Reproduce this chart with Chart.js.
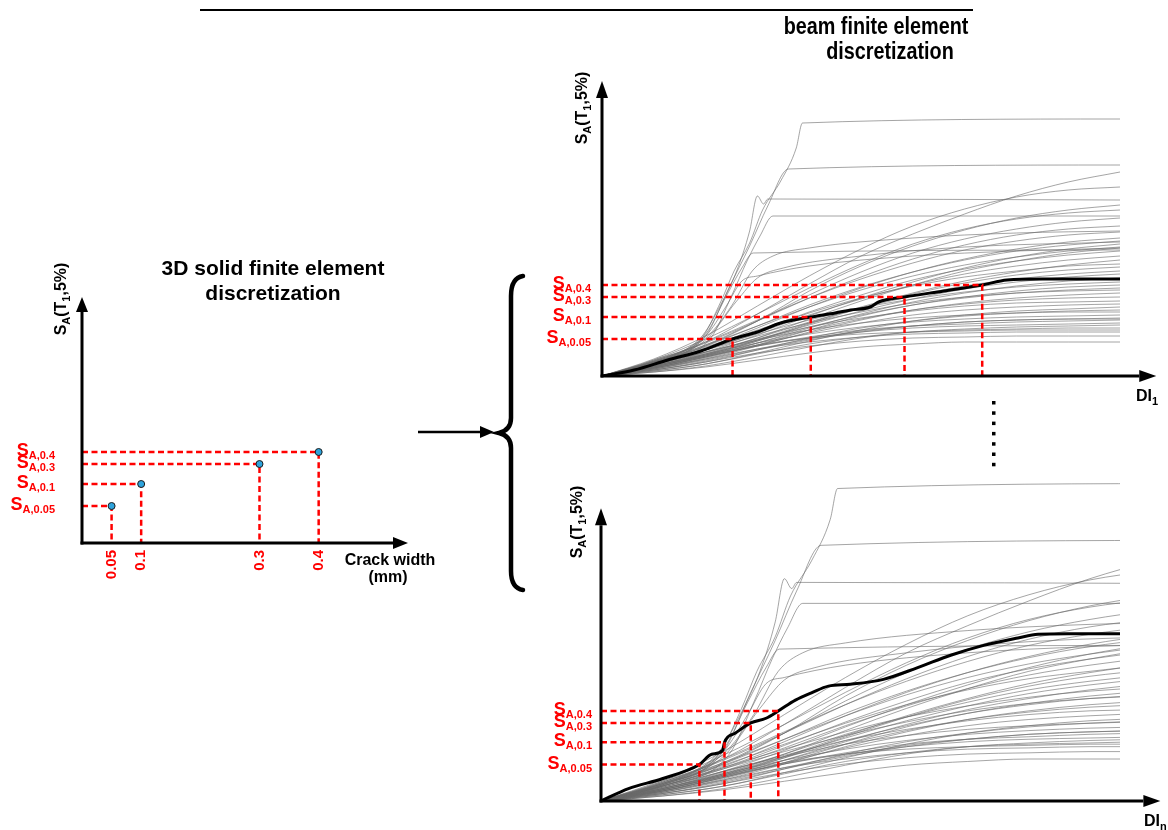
<!DOCTYPE html>
<html>
<head>
<meta charset="utf-8">
<title>Crack width to DI mapping</title>
<script src="https://cdn.jsdelivr.net/npm/chart.js"></script>
<style>
  body { margin: 0; background: #fff; }
  #wrap { position: relative; width: 1168px; height: 830px; }
  #wrap canvas { position: absolute; left: 0; top: 0; }
</style>
</head>
<body>
<div id="wrap">
  <canvas id="crackChart" width="1168" height="830"></canvas>
  <canvas id="di1Chart" width="1168" height="830"></canvas>
  <canvas id="dinChart" width="1168" height="830"></canvas>
</div>
<script>
// --- 3D solid model: crack width vs SA(T1,5%) ---
const crackWidths = [0.05, 0.1, 0.3, 0.4];
const crackLabels = ['0.05', '0.1', '0.3', '0.4'];
const saLevels = [0.37, 0.59, 0.79, 0.91];
const saLabels = ['A,0.05', 'A,0.1', 'A,0.3', 'A,0.4'];

// --- beam model: DI where the median IDA curve reaches each SA level ---
const di1Levels = [2.52, 4.03, 5.84, 7.34];
const dinLevels = [1.61, 2.02, 2.45, 2.90];
const dinSaLevels = [0.295, 0.475, 0.632, 0.729];

// median IDA curves [DI, SA]
const medianDI1 = [[0,0],[0.62,0.06],[1.27,0.16],[1.91,0.25],[2.52,0.37],[3.0,0.44],[3.45,0.53],
  [4.03,0.59],[4.5,0.63],[4.8,0.66],[5.18,0.69],[5.34,0.74],[5.84,0.79],[6.6,0.85],[7.34,0.91],
  [7.82,0.96],[8.5,0.97],[10,0.97]];
const medianDIn = [[0,0],[0.45,0.10],[1.0,0.18],[1.61,0.295],[1.81,0.378],[1.99,0.41],[2.02,0.475],
  [2.2,0.55],[2.45,0.632],[2.7,0.67],[2.9,0.729],[3.18,0.817],[3.46,0.88],[3.72,0.93],[4.08,0.945],
  [4.62,0.985],[5.18,1.08],[5.72,1.18],[6.26,1.26],[6.82,1.32],[7.15,1.35],[7.64,1.355],[8.49,1.355]];

// individual IDA records (gray), DI sampled at bundleX
const bundleX = [0, 1, 2, 3, 4, 5, 6, 7, 8, 9, 10];
const bundleSA = [
  [0, 0.04, 0.09, 0.16, 0.23, 0.29, 0.32, 0.34, 0.34, 0.34, 0.34],
  [0, 0.06, 0.14, 0.23, 0.30, 0.35, 0.38, 0.39, 0.40, 0.40, 0.40],
  [0, 0.08, 0.17, 0.27, 0.34, 0.39, 0.42, 0.43, 0.44, 0.44, 0.44],
  [0, 0.10, 0.21, 0.31, 0.38, 0.42, 0.44, 0.45, 0.46, 0.46, 0.46],
  [0, 0.05, 0.12, 0.22, 0.32, 0.39, 0.44, 0.46, 0.47, 0.48, 0.48],
  [0, 0.04, 0.10, 0.19, 0.29, 0.38, 0.44, 0.47, 0.49, 0.50, 0.51],
  [0, 0.09, 0.20, 0.30, 0.38, 0.44, 0.48, 0.50, 0.51, 0.52, 0.53],
  [0, 0.08, 0.19, 0.30, 0.39, 0.46, 0.50, 0.52, 0.54, 0.55, 0.56],
  [0, 0.07, 0.16, 0.27, 0.37, 0.45, 0.50, 0.54, 0.56, 0.57, 0.58],
  [0, 0.06, 0.15, 0.26, 0.36, 0.44, 0.50, 0.54, 0.56, 0.57, 0.57],
  [0, 0.10, 0.22, 0.33, 0.42, 0.49, 0.54, 0.57, 0.59, 0.60, 0.61],
  [0, 0.11, 0.24, 0.36, 0.46, 0.53, 0.58, 0.61, 0.63, 0.64, 0.64],
  [0, 0.06, 0.14, 0.26, 0.38, 0.48, 0.55, 0.60, 0.63, 0.65, 0.66],
  [0, 0.05, 0.12, 0.23, 0.35, 0.46, 0.55, 0.61, 0.65, 0.67, 0.69],
  [0, 0.08, 0.19, 0.31, 0.43, 0.53, 0.61, 0.66, 0.69, 0.71, 0.72],
  [0, 0.11, 0.24, 0.37, 0.49, 0.58, 0.65, 0.70, 0.73, 0.74, 0.75],
  [0, 0.09, 0.20, 0.33, 0.46, 0.57, 0.66, 0.72, 0.76, 0.78, 0.79],
  [0, 0.07, 0.17, 0.30, 0.44, 0.56, 0.66, 0.73, 0.78, 0.81, 0.83],
  [0, 0.12, 0.26, 0.40, 0.53, 0.64, 0.73, 0.79, 0.83, 0.85, 0.86],
  [0, 0.09, 0.21, 0.35, 0.49, 0.61, 0.71, 0.78, 0.83, 0.86, 0.88],
  [0, 0.07, 0.18, 0.31, 0.46, 0.60, 0.71, 0.79, 0.85, 0.89, 0.91],
  [0, 0.12, 0.27, 0.42, 0.56, 0.68, 0.77, 0.84, 0.89, 0.92, 0.94],
  [0, 0.08, 0.19, 0.33, 0.48, 0.62, 0.74, 0.83, 0.90, 0.95, 0.98],
  [0, 0.10, 0.22, 0.36, 0.51, 0.65, 0.77, 0.87, 0.94, 0.99, 1.02],
  [0, 0.10, 0.23, 0.38, 0.54, 0.68, 0.80, 0.90, 0.97, 1.02, 1.05],
  [0, 0.08, 0.20, 0.35, 0.52, 0.68, 0.82, 0.93, 1.01, 1.06, 1.09],
  [0, 0.13, 0.29, 0.46, 0.63, 0.78, 0.90, 0.99, 1.05, 1.10, 1.12],
  [0, 0.09, 0.21, 0.36, 0.53, 0.69, 0.83, 0.95, 1.04, 1.11, 1.16],
  [0, 0.11, 0.26, 0.43, 0.61, 0.77, 0.91, 1.02, 1.10, 1.16, 1.20],
  [0, 0.12, 0.27, 0.45, 0.64, 0.81, 0.96, 1.07, 1.15, 1.21, 1.25],
  [0, 0.14, 0.31, 0.50, 0.69, 0.86, 1.00, 1.11, 1.19, 1.25, 1.29],
  [0, 0.09, 0.22, 0.38, 0.57, 0.75, 0.91, 1.05, 1.15, 1.23, 1.28],
  [0, 0.10, 0.24, 0.41, 0.60, 0.78, 0.94, 1.08, 1.19, 1.27, 1.32],
  [0, 0.13, 0.30, 0.50, 0.71, 0.89, 1.04, 1.16, 1.25, 1.31, 1.35],
  [0, 0.12, 0.28, 0.48, 0.69, 0.88, 1.04, 1.17, 1.27, 1.34, 1.38],
  [0, 0.15, 0.34, 0.56, 0.78, 0.97, 1.13, 1.26, 1.35, 1.41, 1.44],
  [0, 0.14, 0.33, 0.55, 0.78, 0.99, 1.17, 1.31, 1.41, 1.47, 1.50],
  [0, 0.13, 0.31, 0.55, 0.81, 1.04, 1.23, 1.37, 1.47, 1.54, 1.58],
  [0, 0.16, 0.37, 0.62, 0.88, 1.12, 1.32, 1.47, 1.57, 1.63, 1.66],
  [0, 0.12, 0.30, 0.55, 0.85, 1.10, 1.30, 1.46, 1.58, 1.66, 1.71],
  [0, 0.17, 0.40, 0.70, 1.00, 1.27, 1.50, 1.67, 1.79, 1.86, 1.89],
  [0, 0.14, 0.34, 0.62, 0.92, 1.20, 1.42, 1.62, 1.80, 1.94, 2.04]
];

// records that soften or collapse early [DI, SA]
const steepCurves = [
  [[0,0],[1,0.14],[1.9,0.36],[2.3,0.75],[2.55,1.05],[2.85,1.33],[3.1,1.66],[3.45,1.95],[3.75,2.28],[3.87,2.53],[10,2.57]],
  [[0,0],[1,0.13],[2.0,0.40],[2.45,0.88],[2.85,1.30],[3.2,1.70],[3.6,2.07],[10,2.11]],
  [[0,0],[1,0.15],[1.9,0.38],[2.3,0.72],[2.6,1.05],[2.85,1.45],[3.0,1.80],[3.12,1.72],[3.2,1.77],[10,1.76]],
  [[0,0],[1,0.12],[2.1,0.38],[2.5,0.80],[2.8,1.15],[3.05,1.40],[3.3,1.60],[10,1.60]],
  [[0,0],[1,0.16],[2.0,0.42],[2.4,0.80],[2.7,1.08],[2.92,1.23],[10,1.26]],
  [[0,0],[1,0.15],[2.0,0.38],[2.5,0.70],[2.9,1.05],[3.3,1.20],[4,1.28],[6,1.38],[8,1.43],[10,1.45]],
  [[0,0],[1,0.14],[2.0,0.36],[2.6,0.75],[3.0,0.98],[3.5,1.08],[5,1.20],[7,1.29],[10,1.34]],
  [[0,0],[1,0.13],[2.0,0.40],[2.4,0.70],[2.7,0.95],[3.0,1.00],[4,1.10],[6,1.20],[8,1.25],[10,1.28]]
];

const FONT = '"Liberation Sans", Arial, Helvetica, sans-serif';
const RED = '#ff0000';
const GRAY = 'rgba(105,105,105,0.6)';

function pts(pairs) {
  return pairs.map(p => ({ x: p[0], y: p[1] }));
}

function grayDatasets() {
  const sets = bundleSA.map(ys => ({ data: bundleX.map((x, i) => ({ x, y: ys[i] })) }));
  steepCurves.forEach(c => sets.push({ data: pts(c) }));
  return sets.map(s => Object.assign(s, {
    showLine: true, borderColor: GRAY, borderWidth: 1, pointRadius: 0,
    cubicInterpolationMode: 'monotone', order: 3
  }));
}

function dashedDatasets(xs, ys) {
  return xs.map((x, i) => ({
    data: [{ x: 0, y: ys[i] }, { x, y: ys[i] }, { x, y: 0 }],
    showLine: true, borderColor: RED, borderWidth: 2.5, borderDash: [6, 3.5],
    pointRadius: 0, order: 1
  }));
}

function medianDataset(pairs) {
  return {
    data: pts(pairs), showLine: true, borderColor: '#000', borderWidth: 3,
    pointRadius: 0, cubicInterpolationMode: 'monotone', order: 2
  };
}

// text runs with subscripts: [text, size, dy]
function drawRuns(ctx, runs, x, y, align) {
  ctx.textAlign = 'left';
  ctx.textBaseline = 'alphabetic';
  let total = 0;
  runs.forEach(r => { ctx.font = `bold ${r[1]}px ${FONT}`; total += ctx.measureText(r[0]).width; });
  let cx = align === 'right' ? x - total : align === 'center' ? x - total / 2 : x;
  runs.forEach(r => {
    ctx.font = `bold ${r[1]}px ${FONT}`;
    ctx.fillText(r[0], cx, y + r[2]);
    cx += ctx.measureText(r[0]).width;
  });
}

function arrow(ctx, x1, y1, x2, y2, len, half, lw) {
  const a = Math.atan2(y2 - y1, x2 - x1);
  const bx = x2 - len * Math.cos(a), by = y2 - len * Math.sin(a);
  ctx.lineWidth = lw;
  ctx.beginPath(); ctx.moveTo(x1, y1); ctx.lineTo(bx, by); ctx.stroke();
  ctx.beginPath();
  ctx.moveTo(x2, y2);
  ctx.lineTo(bx - half * Math.sin(a), by + half * Math.cos(a));
  ctx.lineTo(bx + half * Math.sin(a), by - half * Math.cos(a));
  ctx.closePath(); ctx.fill();
}

const yTitleRuns = [['S', 16, 0], ['A', 11, 4], ['(T', 16, 0], ['1', 11, 4], [',5%)', 16, 0]];

// axes, arrows and labels of one panel
function panelPlugin(cfg) {
  return {
    id: 'panel',
    afterDatasetsDraw(chart) {
      const { ctx, scales: { x, y } } = chart;
      const x0 = x.getPixelForValue(0), y0 = y.getPixelForValue(0);
      ctx.save();
      ctx.fillStyle = '#000';
      ctx.strokeStyle = '#000';
      arrow(ctx, x0 - 1.5, y0, x.getPixelForValue(cfg.xTip), y0, cfg.head, 6, 3);
      arrow(ctx, x0, y0 + 1.5, x0, y.getPixelForValue(cfg.yTip), cfg.head, 6, 3);

      // rotated y title
      ctx.save();
      ctx.translate(x0 + cfg.yTitleDx, cfg.yTitleY);
      ctx.rotate(-Math.PI / 2);
      drawRuns(ctx, yTitleRuns, 0, 0, 'center');
      ctx.restore();

      // red SA labels
      ctx.fillStyle = RED;
      cfg.sa.forEach((v, i) => {
        drawRuns(ctx, [['S', 18, 0], [saLabels[i], 11, 3]], x0 + cfg.labelDx, y.getPixelForValue(v) + 4, 'right');
      });
      ctx.fillStyle = '#000';
      if (cfg.after) cfg.after(ctx, chart, x0, y0);
      ctx.restore();
    }
  };
}

// condensed bold heading, like the narrow face of the original
function narrowText(ctx, text, cx, y) {
  ctx.save();
  ctx.font = `bold 23px ${FONT}`;
  ctx.textAlign = 'center';
  ctx.textBaseline = 'alphabetic';
  ctx.translate(cx, y);
  ctx.scale(0.86, 1);
  ctx.fillText(text, 0, 0);
  ctx.restore();
}

// decorations between the panels
const sheetPlugin = {
  id: 'sheet',
  afterDraw(chart) {
    const ctx = chart.ctx;
    ctx.save();
    ctx.fillStyle = '#000';
    ctx.strokeStyle = '#000';
    ctx.fillRect(200, 9, 773, 2);

    ctx.textAlign = 'center';
    ctx.textBaseline = 'alphabetic';
    ctx.font = `bold 21px ${FONT}`;
    ctx.fillText('3D solid finite element', 273, 275);
    ctx.fillText('discretization', 273, 300);
    narrowText(ctx, 'beam finite element', 876, 34);
    narrowText(ctx, 'discretization', 890, 59);

    arrow(ctx, 418, 432, 494, 432, 14, 6, 2.5);

    // brace
    ctx.lineWidth = 4.5;
    ctx.lineCap = 'round';
    ctx.beginPath();
    ctx.moveTo(523, 276);
    ctx.quadraticCurveTo(511, 278, 511, 296);
    ctx.lineTo(511, 418);
    ctx.quadraticCurveTo(511, 430, 499, 433);
    ctx.quadraticCurveTo(511, 436, 511, 448);
    ctx.lineTo(511, 571);
    ctx.quadraticCurveTo(511, 588, 523, 590);
    ctx.stroke();

    // vertical ellipsis between DI panels
    for (let k = 0; k < 7; k++) ctx.fillRect(992, 401 + k * 10.3, 3.5, 3.5);
    ctx.restore();
  }
};

const baseOptions = (pad, xMax, yMax) => ({
  responsive: false,
  animation: false,
  events: [],
  layout: { padding: pad },
  plugins: { legend: { display: false }, tooltip: { enabled: false } },
  scales: {
    x: { type: 'linear', min: 0, max: xMax, display: false },
    y: { type: 'linear', min: 0, max: yMax, display: false }
  }
});

// left panel: crack width
new Chart(document.getElementById('crackChart'), {
  type: 'scatter',
  data: {
    datasets: [
      {
        data: crackWidths.map((x, i) => ({ x, y: saLevels[i] })),
        showLine: false, pointRadius: 3.5, pointBackgroundColor: '#2ea3dc',
        pointBorderColor: '#1b1b1b', pointBorderWidth: 1, order: 0
      },
      ...dashedDatasets(crackWidths, saLevels)
    ]
  },
  options: baseOptions({ left: 82, right: 760, top: 297, bottom: 287 }, 0.551, 2.46),
  plugins: [sheetPlugin, panelPlugin({
    xTip: 0.551, yTip: 2.46, head: 15, yTitleDx: -16, yTitleY: 299, labelDx: -27, sa: saLevels,
    after(ctx, chart, x0, y0) {
      const xs = chart.scales.x;
      ctx.fillStyle = RED;
      ctx.font = `bold 15px ${FONT}`;
      ctx.textAlign = 'right';
      ctx.textBaseline = 'middle';
      crackWidths.forEach((w, i) => {
        ctx.save();
        ctx.translate(xs.getPixelForValue(w), y0 + 7);
        ctx.rotate(-Math.PI / 2);
        ctx.fillText(crackLabels[i], 0, 0);
        ctx.restore();
      });
      ctx.fillStyle = '#000';
      ctx.textAlign = 'center';
      ctx.textBaseline = 'alphabetic';
      ctx.font = `bold 16px ${FONT}`;
      ctx.fillText('Crack width', 390, 565);
      ctx.fillText('(mm)', 388, 582);
    }
  })]
});

// top right panel: DI1
new Chart(document.getElementById('di1Chart'), {
  type: 'scatter',
  data: {
    datasets: [
      ...dashedDatasets(di1Levels, saLevels),
      medianDataset(medianDI1),
      ...grayDatasets()
    ]
  },
  options: baseOptions({ left: 602, right: 48, top: 81, bottom: 454 }, 10.0, 2.95),
  plugins: [panelPlugin({
    xTip: 10.7, yTip: 2.95, head: 17, yTitleDx: -15, yTitleY: 108, labelDx: -11, sa: saLevels,
    after(ctx) {
      drawRuns(ctx, [['DI', 16, 0], ['1', 11, 4]], 1136, 401, 'left');
    }
  })]
});

// bottom right panel: DIn
new Chart(document.getElementById('dinChart'), {
  type: 'scatter',
  data: {
    datasets: [
      ...dashedDatasets(dinLevels, dinSaLevels),
      medianDataset(medianDIn),
      ...grayDatasets()
    ]
  },
  options: baseOptions({ left: 601, right: 48, top: 470, bottom: 29 }, 8.49, 2.68),
  plugins: [panelPlugin({
    xTip: 9.15, yTip: 2.37, head: 17, yTitleDx: -19, yTitleY: 522, labelDx: -9, sa: dinSaLevels,
    after(ctx) {
      drawRuns(ctx, [['DI', 16, 0], ['n', 11, 4]], 1144, 826, 'left');
    }
  })]
});
</script>
</body>
</html>
